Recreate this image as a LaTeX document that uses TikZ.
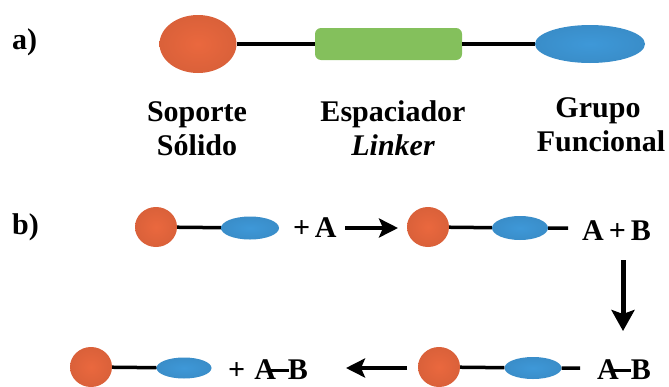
\documentclass[tikz,border=0pt]{standalone}
\usepackage{fontspec}
\setmainfont{Liberation Serif}
\newfontfamily\lblfont{Liberation Serif}[BoldFont={Liberation Serif Bold},BoldItalicFont={Liberation Serif Bold Italic}]
\usetikzlibrary{shapes.geometric,arrows.meta}
\definecolor{orng}{RGB}{234,104,62}
\definecolor{blu}{RGB}{62,152,216}
\definecolor{grn}{RGB}{132,192,92}
\newcommand\lbl[1]{{\lblfont\fontsize{30}{34}\selectfont\bfseries #1}}
\newcommand\bnd{\kern-0.24em\rule[0.24em]{0.66em}{0.1em}\kern-0.02em}
\begin{document}
\begin{tikzpicture}[x=1pt,y=-1pt,
  txt/.style={inner sep=0pt,anchor=base},
  orb/.style={ellipse,draw=none,inner sep=0pt,inner color=orng,outer color=orng!93!black},
  fgroup/.style={ellipse,draw=none,inner sep=0pt,inner color=blu,outer color=blu!93!black},
  spacerbox/.style={rectangle,rounded corners=6pt,draw=none,inner sep=0pt,fill=grn},
  bondline/.style={line width=3.5pt,black},
  reactarrow/.style={line width=4pt,black,-{Stealth[length=19pt,width=19pt,inset=4pt]}},
]
\useasboundingbox (0,0) rectangle (669,386);
% ---- a)
\node[txt,anchor=base west] (la) at (12,49) {\lbl{a)}};
\node[orb,minimum width=77pt,minimum height=58pt] (ca) at (198,44) {};
\node[spacerbox,minimum width=147pt,minimum height=32pt] (ga) at (388.5,44) {};
\node[fgroup,minimum width=110pt,minimum height=38pt] (ba) at (590,44) {};
\draw[bondline] (ca) -- (ga);
\draw[bondline] (ga) -- (ba);
\node[txt] (t1) at (197,121) {\lbl{Soporte}};
\node[txt] (t2) at (197,155) {\lbl{Sólido}};
\node[txt] (t3) at (393,121) {\lbl{Espaciador}};
\node[txt] (t4) at (393,155) {\lbl{\itshape Linker}};
\node[txt] (t5) at (598,117) {\lbl{Grupo}};
\node[txt] (t6) at (601,151) {\lbl{Funcional}};
% ---- b)
\node[txt,anchor=base west] (lb) at (12,234) {\lbl{b)}};
% row 1
\node[orb,minimum width=42pt,minimum height=40pt] (o1) at (156,227) {};
\node[fgroup,minimum width=58pt,minimum height=23pt] (b1) at (250,228) {};
\draw[bondline] (o1) -- (b1);
\node[txt,anchor=base west] (p1) at (293,237) {\lbl{+\hspace{0.15em}A}};
\coordinate (a1s) at (345,228);
\coordinate (a1e) at (398,228);
\draw[reactarrow] (a1s) -- (a1e);
\node[orb,minimum width=42pt,minimum height=40pt] (o2) at (428,227) {};
\node[fgroup,minimum width=56pt,minimum height=24pt] (b2) at (520,228) {};
\coordinate (t2e) at (568,228);
\draw[bondline] (o2) -- (b2) -- (t2e);
\node[txt,anchor=base west] (p2) at (582,240) {\lbl{A\,+\,B}};
% down arrow
\coordinate (dns) at (623,260);
\coordinate (dne) at (623,331);
\draw[line width=5pt,black,-{Stealth[length=21pt,width=23pt,inset=4pt]}] (dns) -- (dne);
% row 2
\node[orb,minimum width=42pt,minimum height=40pt] (o3) at (91,367) {};
\node[fgroup,minimum width=55pt,minimum height=21pt] (b3) at (184,368) {};
\draw[bondline] (o3) -- (b3);
\node[txt,anchor=base west] (p3) at (228,379) {\lbl{+\hspace{0.3em}A\bnd B}};
\coordinate (a2s) at (407,368);
\coordinate (a2e) at (346,368);
\draw[reactarrow] (a2s) -- (a2e);
\node[orb,minimum width=42pt,minimum height=40pt] (o4) at (439,367) {};
\node[fgroup,minimum width=57pt,minimum height=22pt] (b4) at (533,368) {};
\coordinate (t4e) at (580,368);
\draw[bondline] (o4) -- (b4) -- (t4e);
\node[txt,anchor=base west] (p4) at (597,379) {\lbl{A\bnd B}};
\end{tikzpicture}
\end{document}
